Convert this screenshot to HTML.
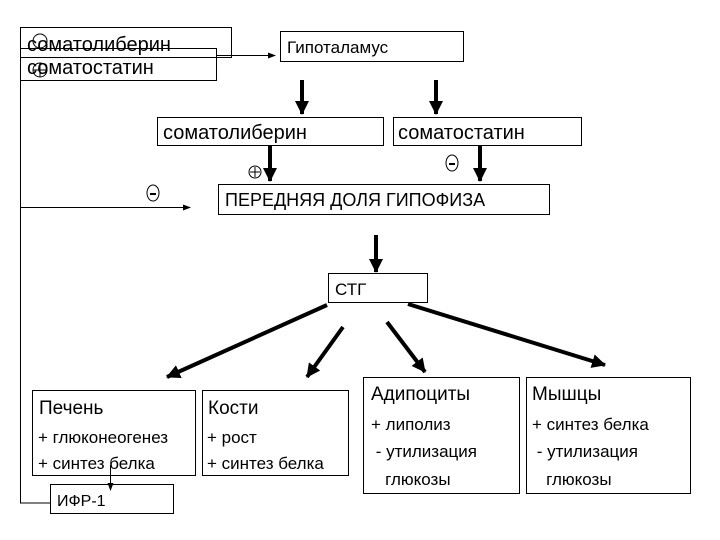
<!DOCTYPE html>
<html><head><meta charset="utf-8"><style>
html,body{margin:0;padding:0;background:#fff;}
svg{display:block;}
text{font-family:"Liberation Sans",sans-serif;fill:#000;white-space:pre;}
</style></head><body>
<svg width="720" height="540" viewBox="0 0 720 540" xmlns="http://www.w3.org/2000/svg">
<defs>
<marker id="a" markerWidth="8" markerHeight="8" refX="7" refY="4" orient="auto" markerUnits="userSpaceOnUse"><path d="M0,1 L8,4 L0,7 z" fill="#000"/></marker>
<marker id="b" markerWidth="14" markerHeight="14" refX="13" refY="7" orient="auto" markerUnits="userSpaceOnUse"><path d="M0,0 L14,7 L0,14 z" fill="#000"/></marker>
</defs>
<g fill="none" stroke="#000" stroke-width="1">
<rect x="20.5" y="27.5" width="211" height="30"/>
<rect x="20.5" y="48.5" width="196" height="32"/>
<rect x="280.5" y="31.5" width="183" height="30"/>
<rect x="157.5" y="117.5" width="226" height="28"/>
<rect x="393.5" y="117.5" width="188" height="28"/>
<rect x="218.5" y="184.5" width="331" height="30"/>
<rect x="328.5" y="273.5" width="99" height="29"/>
<rect x="32.5" y="390.5" width="163" height="85"/>
<rect x="202.5" y="390.5" width="146" height="85"/>
<rect x="363.5" y="377.5" width="156" height="116"/>
<rect x="526.5" y="377.5" width="164" height="116"/>
<rect x="50.5" y="484.5" width="123" height="29"/>
<polyline points="20.5,80 20.5,503 50,503"/>
<line x1="216" y1="55.5" x2="275" y2="55.5" marker-end="url(#a)"/>
<line x1="20" y1="207.5" x2="190" y2="207.5" marker-end="url(#a)"/>
<line x1="110.5" y1="465" x2="110.5" y2="490" marker-end="url(#a)"/>
<circle cx="40" cy="41" r="7"/><circle cx="40" cy="70" r="7"/>
<line x1="33" y1="70" x2="47" y2="70"/><line x1="40" y1="63" x2="40" y2="77"/>
<circle cx="255" cy="172" r="6"/><line x1="250" y1="172" x2="260" y2="172"/><line x1="255" y1="167" x2="255" y2="177"/>
<ellipse cx="452" cy="163" rx="6" ry="8"/><line x1="449" y1="164" x2="455" y2="164" stroke-width="2"/>
<ellipse cx="153" cy="193" rx="6" ry="8"/><line x1="150" y1="194" x2="156" y2="194" stroke-width="2"/>
</g>
<g stroke="#000" stroke-width="4" fill="none">
<line x1="302" y1="80" x2="302" y2="114" marker-end="url(#b)"/>
<line x1="436" y1="80" x2="436" y2="114" marker-end="url(#b)"/>
<line x1="270" y1="145" x2="270" y2="181" marker-end="url(#b)"/>
<line x1="480" y1="145" x2="480" y2="181" marker-end="url(#b)"/>
<line x1="376" y1="235" x2="376" y2="272" marker-end="url(#b)"/>
<line x1="327" y1="305" x2="167" y2="377" marker-end="url(#b)"/>
<line x1="343" y1="327" x2="307" y2="377" marker-end="url(#b)"/>
<line x1="387" y1="322" x2="425" y2="372" marker-end="url(#b)"/>
<line x1="408" y1="304" x2="605" y2="365" marker-end="url(#b)"/>
</g>
<g font-size="20">
<text x="27" y="51">соматолиберин</text>
<text x="27" y="74">соматостатин</text>
<text x="163" y="139">соматолиберин</text>
<text x="398" y="139">соматостатин</text>
</g>
<g font-size="18">
<text x="287" y="53" font-size="17">Гипоталамус</text>
<text x="225" y="206">ПЕРЕДНЯЯ ДОЛЯ ГИПОФИЗА</text>
<text x="335" y="295" font-size="17">СТГ</text>
</g>
<g font-size="19">
<text x="39" y="414">Печень</text>
<text x="208" y="414">Кости</text>
<text x="371" y="400">Адипоциты</text>
<text x="532" y="400">Мышцы</text>
</g>
<g font-size="17">
<text x="38" y="443">+ глюконеогенез</text>
<text x="38" y="469">+ синтез белка</text>
<text x="207" y="443">+ рост</text>
<text x="207" y="469">+ синтез белка</text>
<text x="371" y="430">+ липолиз</text>
<text x="371" y="457"> - утилизация</text>
<text x="371" y="485">   глюкозы</text>
<text x="532" y="430">+ синтез белка</text>
<text x="532" y="457"> - утилизация</text>
<text x="532" y="485">   глюкозы</text>
<text x="57" y="506" font-size="16">ИФР-1</text>
</g>
</svg>
</body></html>
